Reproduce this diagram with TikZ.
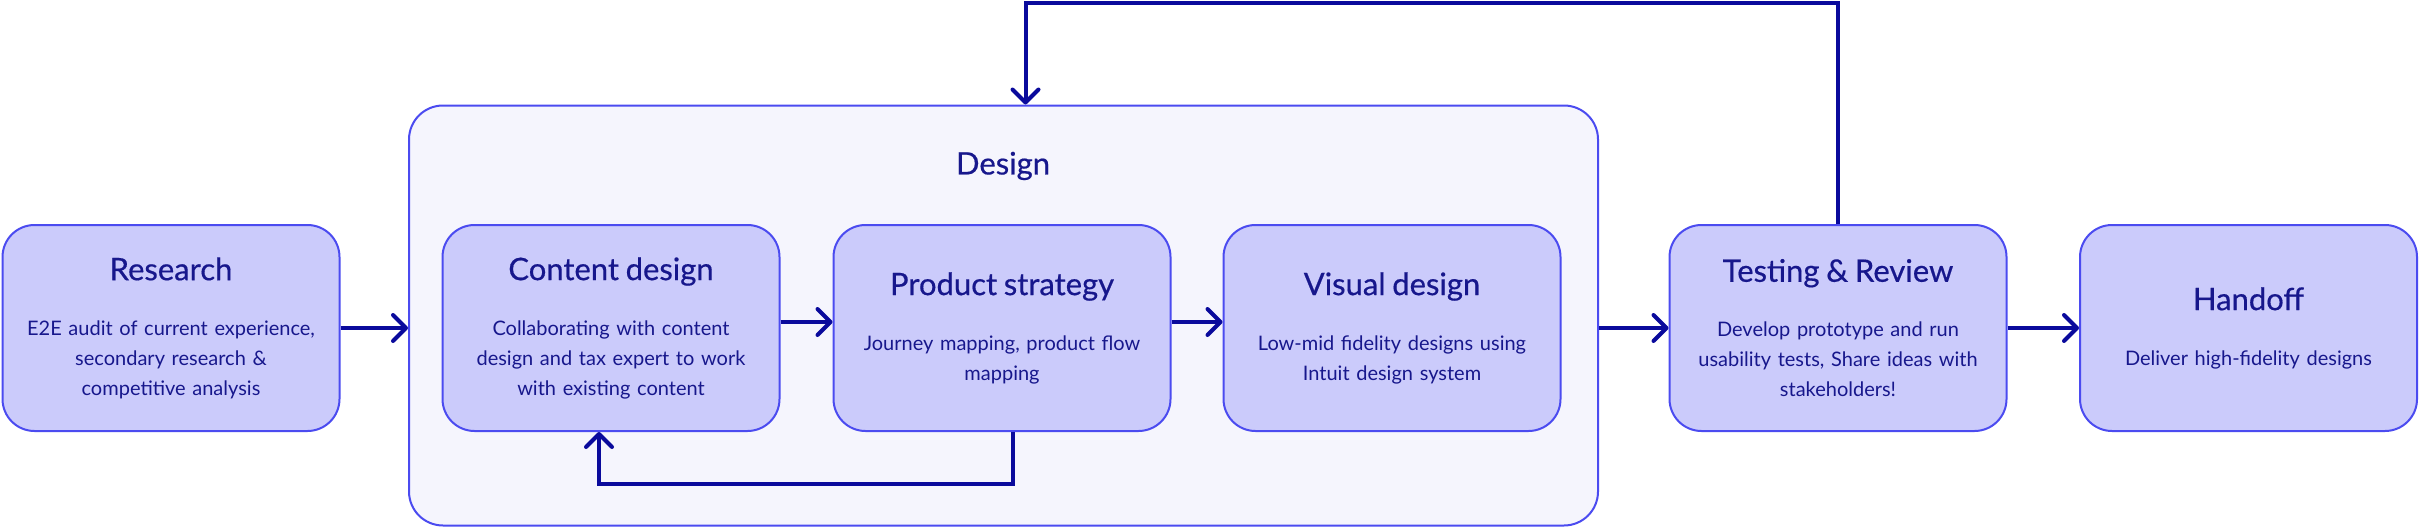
\documentclass[tikz,border=0pt]{standalone}
\usepackage{fontspec}
\setmainfont{Lato}
\usetikzlibrary{arrows.meta}
\definecolor{boxfill}{HTML}{CBCBFB}
\definecolor{boxline}{HTML}{4B4BF0}
\definecolor{contfill}{HTML}{F5F5FD}
\definecolor{arrowc}{HTML}{0A0A9C}
\definecolor{txt}{HTML}{17178C}
\newfontfamily\ttlfont[FakeBold=0.5]{Lato}
\newcommand{\ttl}[1]{{\ttlfont\fontsize{31}{30}\selectfont #1\par}\vspace{25pt}}
\begin{document}
\begin{tikzpicture}[x=1pt,y=-1pt,
 stagebox/.style={draw=boxline, line width=2pt, fill=boxfill, rounded corners=32pt, minimum width=337pt, minimum height=206pt, text width=330pt, align=center, inner sep=0pt, text=txt, font=\fontsize{20}{30}\selectfont},
 container/.style={draw=boxline, line width=2pt, fill=contfill, rounded corners=34pt, minimum width=1189pt, minimum height=420pt, inner sep=0pt},
 lbl/.style={text=txt, font=\ttlfont\fontsize{31}{30}\selectfont, inner sep=0pt},
 flow/.style={draw=arrowc, line width=4pt, -{Straight Barb[length=13pt,width=26pt,round]}}
]
\useasboundingbox (0,0) rectangle (2419,527);
\node[container] (design) at (1003.5,315.5) {};
\node[lbl] (designlbl) at (1003,166) {Design};
\node[stagebox] (research) at (171,328) {\ttl{Research}E2E audit of current experience,\\secondary research \&\\competitive analysis};
\node[stagebox] (content) at (611,328) {\ttl{Content design}Collaborating with content\\design and tax expert to work\\with existing content};
\node[stagebox] (product) at (1002,328) {\ttl{Product strategy}Journey mapping, product flow\\mapping};
\node[stagebox] (visual) at (1392,328) {\ttl{Visual design}Low-mid fidelity designs using\\Intuit design system};
\node[stagebox] (testing) at (1838,328) {\ttl{Testing \& Review}Develop prototype and run\\usability tests, Share ideas with\\stakeholders!};
\node[stagebox] (handoff) at (2248.5,328) {\ttl{Handoff}Deliver high-fidelity designs};
\draw[flow] (research.east) -- (research.east -| design.west);
\draw[flow] ([yshift=6pt]content.east) -- ([yshift=6pt]product.west);
\draw[flow] ([yshift=6pt]product.east) -- ([yshift=6pt]visual.west);
\draw[flow] (testing.west -| design.east) -- (testing.west);
\draw[flow] (testing.east) -- (handoff.west);
\coordinate (toprail) at (1839,3);
\draw[flow] (testing.north) -- (testing.north |- toprail) -| ([xshift=22pt]design.north);
\coordinate (looprail) at (0,484);
\draw[flow] ([xshift=11pt]product.south) -- ([xshift=11pt]product.south |- looprail) -| ([xshift=-12pt]content.south);
\end{tikzpicture}
\end{document}
